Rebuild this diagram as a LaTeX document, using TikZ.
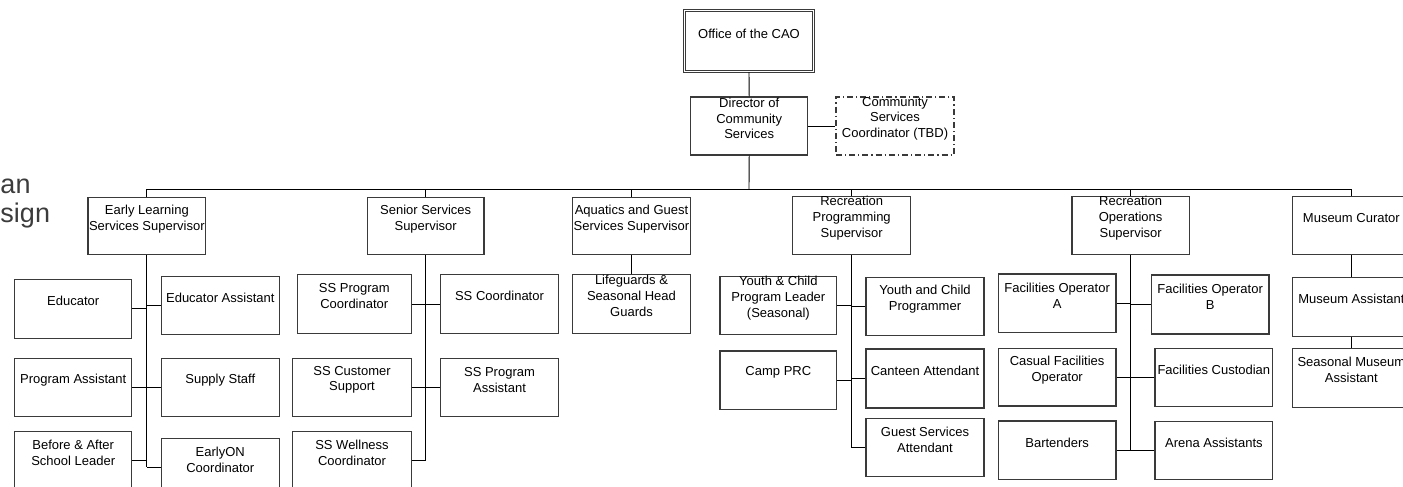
\documentclass[tikz,border=0pt]{standalone}
\usepackage{fontspec}
\setmainfont{Liberation Sans}
\usetikzlibrary{fit}
\definecolor{boxline}{HTML}{3A3A3A}
\definecolor{titlegray}{HTML}{3C3C3C}
\tikzset{
  jobframe/.style={draw=boxline, line width=1.1pt, rectangle, inner sep=0pt, fill=white},
  tbdframe/.style={jobframe, dash pattern=on 6pt off 3pt on 1.2pt off 3pt},
  caoframe/.style={draw=boxline, line width=1.1pt, double=white, double distance=1.6pt, rectangle, inner sep=0pt},
  jobtext/.style={align=center, inner sep=0pt, font=\fontsize{13}{15.8}\selectfont, text=black},
  conn/.style={draw=black, line width=0.9pt},
  heading/.style={inner sep=0pt, font=\fontsize{27}{31}\selectfont, text=titlegray}
}
% one position box: frame style, name, corners (x1,y1) (x2,y2), text
\newcommand\jobbox[7][jobframe]{%
  \node[#1, fit={(#3,#4) (#5,#6)}] (#2) {};
  \node[jobtext] (#2-t) at ([yshift=-22pt]#2.north) {#7};}
\begin{document}
\begin{tikzpicture}[x=1pt,y=-1pt]
\useasboundingbox (0,0) rectangle (1403,487);
\clip (0,0) rectangle (1403,487);

% heading fragments at the left edge
\node[heading, anchor=base west] (hd1) at (0.3,193) {an};
\node[heading, anchor=base west] (hd2) at (0.3,222) {sign};

% top of the structure
\node[caoframe, fit={(684.5,10.5) (813.5,71.5)}] (cao) {};
\node[jobtext] (cao-t) at (749,34) {Office of the CAO};
\jobbox{dir}{690.7}{97}{807.7}{155}{Director of\\Community\\Services}
\jobbox[tbdframe]{csc}{836}{97}{954}{155}{Community\\Services\\Coordinator (TBD)}

% supervisors
\jobbox{els}{88}{197.3}{205.7}{254.7}{Early Learning\\Services Supervisor}
\jobbox{sss}{367.3}{197.3}{484}{254.7}{Senior Services\\Supervisor}
\jobbox{aqs}{572.3}{197.3}{690.7}{254.7}{Aquatics and Guest\\Services Supervisor}
\jobbox{rps}{792.7}{196.7}{910.7}{254.7}{Recreation\\Programming\\Supervisor}
\jobbox{ros}{1072}{196.7}{1189.3}{254.7}{Recreation\\Operations\\Supervisor}
\jobbox{muc}{1292.7}{196.7}{1410}{254.7}{Museum Curator}

% early learning team
\jobbox{edu}{14.7}{279.3}{131.7}{338.3}{Educator}
\jobbox{eda}{161.3}{276.7}{279.3}{334.7}{Educator Assistant}
\jobbox{pga}{14.7}{358.3}{131.7}{416.3}{Program Assistant}
\jobbox{sup}{161.3}{358.3}{279.3}{416.3}{Supply Staff}
\jobbox{bas}{14.7}{431.7}{131.7}{489.7}{Before \& After\\School Leader}
\jobbox{eon}{161.3}{438.3}{279.3}{496.3}{EarlyON\\Coordinator}

% senior services team
\jobbox{spc}{297.3}{274.7}{411.3}{333.7}{SS Program\\Coordinator}
\jobbox{ssc}{440.3}{274.7}{558.7}{333.7}{SS Coordinator}
\jobbox{scs}{292.7}{358.3}{411.3}{416.3}{SS Customer\\Support}
\jobbox{spa}{440.3}{358.3}{558.7}{416.3}{SS Program\\Assistant}
\jobbox{swc}{292.7}{431.3}{411.3}{489.3}{SS Wellness\\Coordinator}

% aquatics
\jobbox{lfg}{572.3}{274.7}{690.7}{333.7}{Lifeguards \&\\Seasonal Head\\Guards}

% recreation programming team
\jobbox{ycl}{720}{276.7}{836.7}{334.7}{Youth \& Child\\Program Leader\\(Seasonal)}
\jobbox{ycp}{866}{277.7}{984}{335.3}{Youth and Child\\Programmer}
\jobbox{cpr}{720}{351}{836.7}{409.7}{Camp PRC}
\jobbox{cat}{866}{349}{984}{408}{Canteen Attendant}
\jobbox{gsa}{866}{418.3}{984}{476.7}{Guest Services\\Attendant}

% recreation operations team
\jobbox{foa}{998.3}{274}{1116}{332.7}{Facilities Operator\\A}
\jobbox{fob}{1151.3}{275}{1269}{334}{Facilities Operator\\B}
\jobbox{cfo}{998.3}{348.3}{1116}{406}{Casual Facilities\\Operator}
\jobbox{fcu}{1155}{348.3}{1272.7}{406.7}{Facilities Custodian}
\jobbox{bar}{998.3}{421}{1116}{479.3}{Bartenders}
\jobbox{arn}{1155}{421.7}{1272.7}{479.3}{Arena Assistants}

% museum
\jobbox{mua}{1292.7}{277.7}{1410}{336.7}{Museum Assistant}
\jobbox{sma}{1292.7}{348.3}{1410}{407.7}{Seasonal Museum\\Assistant}

% reporting lines
\coordinate (bus) at (749,189);
\draw[conn] (cao.south) -- (dir.north);
\draw[conn] (dir.east) -- (csc.west);
\draw[conn] (dir.south) -- (bus);
\draw[conn] (els.north) -- (els.north |- bus) -- (muc.north |- bus) -- (muc.north);
\foreach \s in {sss,aqs,rps,ros}
  \draw[conn] (\s.north) -- (\s.north |- bus);

% early learning spine
\draw[conn] (els.south) -- (els.south |- eon.west);
\foreach \b in {edu,pga,bas} \draw[conn] (\b.east) -- (\b.east -| els.south);
\foreach \b in {eda,sup,eon} \draw[conn] (\b.west) -- (\b.west -| els.south);

% senior services spine
\draw[conn] (sss.south) -- (sss.south |- swc.east);
\foreach \b in {spc,scs,swc} \draw[conn] (\b.east) -- (\b.east -| sss.south);
\foreach \b in {ssc,spa} \draw[conn] (\b.west) -- (\b.west -| sss.south);

% aquatics
\draw[conn] (aqs.south) -- (lfg.north);

% recreation programming spine
\draw[conn] (rps.south) -- (rps.south |- gsa.west);
\foreach \b in {ycl,cpr} \draw[conn] (\b.east) -- (\b.east -| rps.south);
\foreach \b in {ycp,cat,gsa} \draw[conn] (\b.west) -- (\b.west -| rps.south);

% recreation operations spine
\draw[conn] (ros.south) -- (ros.south |- arn.west);
\foreach \b in {foa,cfo,bar} \draw[conn] (\b.east) -- (\b.east -| ros.south);
\foreach \b in {fob,fcu,arn} \draw[conn] (\b.west) -- (\b.west -| ros.south);

% museum chain
\draw[conn] (muc.south) -- (mua.north);
\draw[conn] (mua.south) -- (sma.north);
\end{tikzpicture}
\end{document}
